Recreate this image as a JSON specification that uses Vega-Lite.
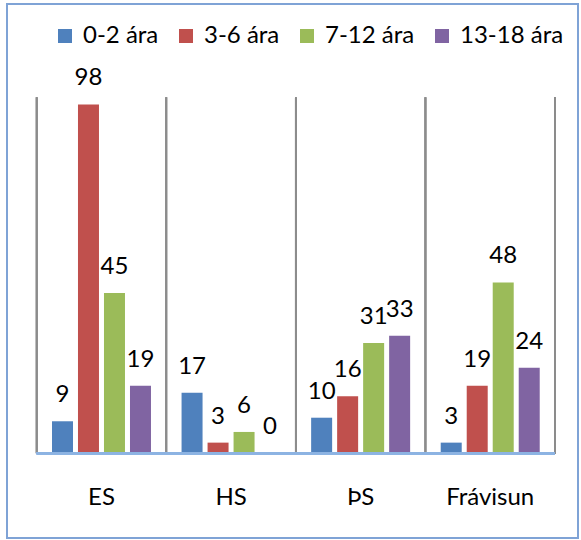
{
  "$schema": "https://vega.github.io/schema/vega-lite/v6.json",
  "width": 571,
  "height": 534,
  "autosize": {"type": "none"},
  "padding": {"left": 7, "top": 4, "right": 3, "bottom": 2},
  "background": "white",
  "config": {
    "view": {"stroke": "#7FA3D6", "strokeWidth": 2},
    "font": "Lato",
    "text": {"font": "Lato"}
  },
  "data": {
    "values": [
      {"cat": "ES", "grp": "0-2 ára", "v": 9},
      {"cat": "ES", "grp": "3-6 ára", "v": 98},
      {"cat": "ES", "grp": "7-12 ára", "v": 45},
      {"cat": "ES", "grp": "13-18 ára", "v": 19},
      {"cat": "HS", "grp": "0-2 ára", "v": 17},
      {"cat": "HS", "grp": "3-6 ára", "v": 3},
      {"cat": "HS", "grp": "7-12 ára", "v": 6},
      {"cat": "HS", "grp": "13-18 ára", "v": 0},
      {"cat": "ÞS", "grp": "0-2 ára", "v": 10},
      {"cat": "ÞS", "grp": "3-6 ára", "v": 16},
      {"cat": "ÞS", "grp": "7-12 ára", "v": 31},
      {"cat": "ÞS", "grp": "13-18 ára", "v": 33},
      {"cat": "Frávisun", "grp": "0-2 ára", "v": 3},
      {"cat": "Frávisun", "grp": "3-6 ára", "v": 19},
      {"cat": "Frávisun", "grp": "7-12 ára", "v": 48},
      {"cat": "Frávisun", "grp": "13-18 ára", "v": 24}
    ]
  },
  "encoding": {
    "x": {
      "field": "cat",
      "type": "nominal",
      "sort": ["ES", "HS", "ÞS", "Frávisun"],
      "scale": {"paddingInner": 0, "paddingOuter": 0.2033, "align": 0.5636},
      "axis": {
        "orient": "bottom",
        "offset": -84.7,
        "domain": false,
        "ticks": false,
        "tickSize": 0,
        "grid": false,
        "labelPadding": 51,
        "labelBaseline": "alphabetic",
        "labelFontSize": 24,
        "labelFont": "Lato",
        "labelColor": "#000000",
        "labelAngle": 0,
        "title": null
      }
    }
  },
  "layer": [
    {
      "mark": {"type": "rule", "color": "#8C8C8C", "strokeWidth": 1.75},
      "encoding": {
        "x": {"field": "cat", "type": "nominal", "sort": ["ES", "HS", "ÞS", "Frávisun"], "bandPosition": 0},
        "y": {"datum": 0, "type": "quantitative", "scale": {"domain": [-23.79, 126.21], "nice": false, "zero": false}, "axis": null},
        "y2": {"datum": 100}
      }
    },
    {
      "mark": {"type": "rule", "color": "#8C8C8C", "strokeWidth": 1.75},
      "encoding": {
        "x": {"datum": "Frávisun", "type": "nominal", "bandPosition": 1},
        "y": {"datum": 0, "type": "quantitative", "axis": null},
        "y2": {"datum": 100}
      }
    },
    {
      "mark": {"type": "bar"},
      "encoding": {
        "xOffset": {
          "field": "grp",
          "type": "nominal",
          "sort": ["0-2 ára", "3-6 ára", "7-12 ára", "13-18 ára"],
          "scale": {"paddingInner": 0.1923, "paddingOuter": 0.588}
        },
        "y": {"field": "v", "type": "quantitative", "axis": null},
        "y2": {"datum": 0},
        "color": {
          "field": "grp",
          "type": "nominal",
          "sort": ["0-2 ára", "3-6 ára", "7-12 ára", "13-18 ára"],
          "scale": {
            "domain": ["0-2 ára", "3-6 ára", "7-12 ára", "13-18 ára"],
            "range": ["#4F81BD", "#C0504D", "#9BBB59", "#8064A2"]
          },
          "legend": {
            "orient": "none",
            "legendX": 46,
            "legendY": 20,
            "direction": "horizontal",
            "columns": 4,
            "title": null,
            "symbolType": "square",
            "symbolSize": 196,
            "symbolStrokeWidth": 0,
            "symbolOpacity": 1,
            "labelFontSize": 24,
            "labelFont": "Lato",
            "labelColor": "#000000",
            "labelOffset": 6,
            "labelLimit": 200,
            "columnPadding": 15,
            "padding": 0
          }
        }
      }
    },
    {
      "mark": {"type": "text", "dy": -19, "baseline": "alphabetic", "fontSize": 24, "font": "Lato", "color": "#000000"},
      "encoding": {
        "xOffset": {
          "field": "grp",
          "type": "nominal",
          "sort": ["0-2 ára", "3-6 ára", "7-12 ára", "13-18 ára"],
          "scale": {"paddingInner": 0.1923, "paddingOuter": 0.588}
        },
        "y": {"field": "v", "type": "quantitative", "axis": null},
        "text": {"field": "v", "type": "quantitative"}
      }
    },
    {
      "mark": {"type": "rule", "color": "#8DB3E2", "strokeWidth": 2},
      "encoding": {
        "x": {"datum": "ES", "type": "nominal", "bandPosition": 0},
        "x2": {"datum": "Frávisun", "bandPosition": 1},
        "y": {"datum": 0, "type": "quantitative", "axis": null}
      }
    }
  ]
}
